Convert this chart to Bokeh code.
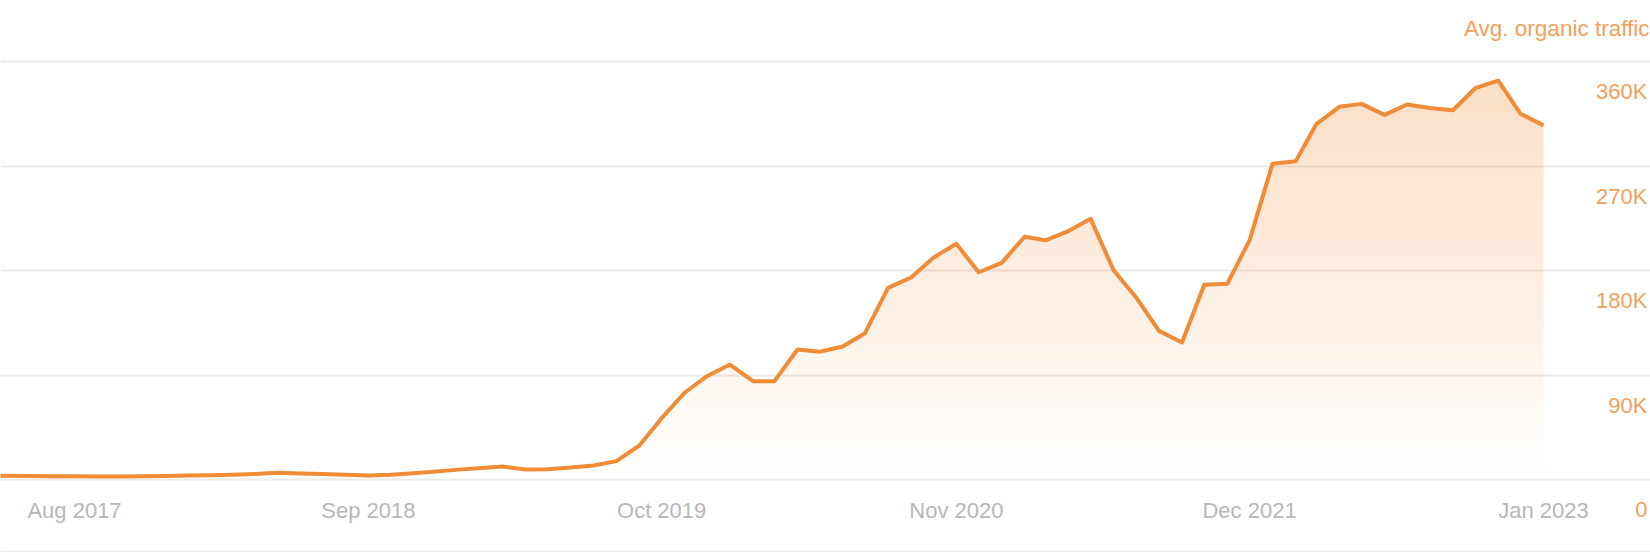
import numpy as np
import pandas as pd
from bokeh.plotting import figure
from bokeh.models import Range1d, FixedTicker
from bokeh.core.properties import value
from bokeh.embed import file_html
from bokeh.resources import INLINE

# ---------------- data ----------------
months = pd.date_range("2017-04-01", "2023-01-01", freq="MS")
traffic = [3300, 3200, 3000, 2900, 2800, 2600, 2600, 2800, 3100, 3400, 3700,
           4000, 4700, 5800, 5200, 4700, 4000, 3400, 4000, 5300, 6900, 8500,
           10000, 11200, 8600, 8800, 10300, 12000, 15800, 29300, 52800, 74700,
           89000, 99000, 84700, 84700, 112000, 110000, 114500, 126000, 165000,
           174000, 191000, 203000, 178500, 186600, 209000, 206000, 214000,
           224500, 180000, 157000, 128000, 118000, 167700, 168500, 206000,
           272000, 274000, 306000, 321000, 323500, 314000, 323000, 320000,
           318000, 337000, 343600, 315000, 305000]
assert len(traffic) == len(months)

x_tick_dates = ["2017-08-01", "2018-09-01", "2019-10-01", "2020-11-01",
                "2021-12-01", "2023-01-01"]
y_ticks = [0, 90000, 180000, 270000, 360000]
y_tick_labels = ["0", "90K", "180K", "270K", "360K"]
series_name = "Avg. organic traffic"

# ---------------- layout / style ----------------
W, H = 1650, 552
FRAME_H = 550
Y0_PX, YTOP_PX = 479, 61          # pixel rows of the 0 and 360K grid lines
XA_PX, XB_PX = 74, 1543           # pixel columns of first / last tick dates
LINE_COLOR = "#F08C37"
FILL_COLOR = "#F28C37"
LABEL_COLOR = "#F2A05A"
XLABEL_COLOR = "#B8B8B8"
FONT = "Liberation Sans"

ppu = (Y0_PX - YTOP_PX) / y_ticks[-1]
y_end = y_ticks[-1] + YTOP_PX / ppu
y_start = -(FRAME_H - Y0_PX) / ppu

ta = pd.Timestamp(x_tick_dates[0]).value / 1e6
tb = pd.Timestamp(x_tick_dates[-1]).value / 1e6
ppms = (XB_PX - XA_PX) / (tb - ta)
x_start = ta - XA_PX / ppms
x_end = x_start + W / ppms

p = figure(width=W, height=H, output_backend="svg", toolbar_location=None,
           x_axis_type="datetime", x_axis_location=None, y_axis_location=None,
           x_range=Range1d(x_start, x_end), y_range=Range1d(y_start, y_end),
           min_border_left=0, min_border_right=0, min_border_top=0,
           min_border_bottom=H - FRAME_H)
p.outline_line_color = None
p.background_fill_color = "white"
p.border_fill_color = "#EEEEEE"
p.xgrid.visible = False
p.ygrid.ticker = FixedTicker(ticks=y_ticks)
p.ygrid.grid_line_color = "#EAEAEA"
p.ygrid.grid_line_width = 2

# vertical gradient under the line: thin translucent bands
vals = np.array(traffic, dtype=float)
N = 50
levels = np.linspace(0, vals.max(), N + 1)
mids = (levels[:-1] + levels[1:]) / 2
alphas = 0.30 * mids / y_ticks[-1]
for k in range(N):
    p.varea(x=months, y1=np.minimum(vals, levels[k]),
            y2=np.minimum(vals, levels[k + 1]),
            fill_color=FILL_COLOR, fill_alpha=float(alphas[k]))

p.line(months, traffic, line_color=LINE_COLOR, line_width=4,
       line_join="round")

# x labels
xd = pd.to_datetime(x_tick_dates)
p.text(x=xd, y=[0] * len(xd), text=[d.strftime("%b %Y") for d in xd],
       y_offset=31, text_align="center", text_baseline="middle",
       text_color=XLABEL_COLOR, text_font=value(FONT), text_font_size="22px")

# y labels (right side, under their grid lines)
p.text(x=[x_end] * len(y_ticks), y=y_ticks, text=y_tick_labels,
       x_offset=-3, y_offset=30, text_align="right", text_baseline="middle",
       text_color=LABEL_COLOR, text_font=value(FONT), text_font_size="22px")

p.text(x=[x_end], y=[y_end], text=[series_name], x_offset=-1, y_offset=28,
       text_align="right", text_baseline="middle", text_color=LABEL_COLOR,
       text_font=value(FONT), text_font_size="22.5px")

open("out.html", "w").write(file_html(p, INLINE))
